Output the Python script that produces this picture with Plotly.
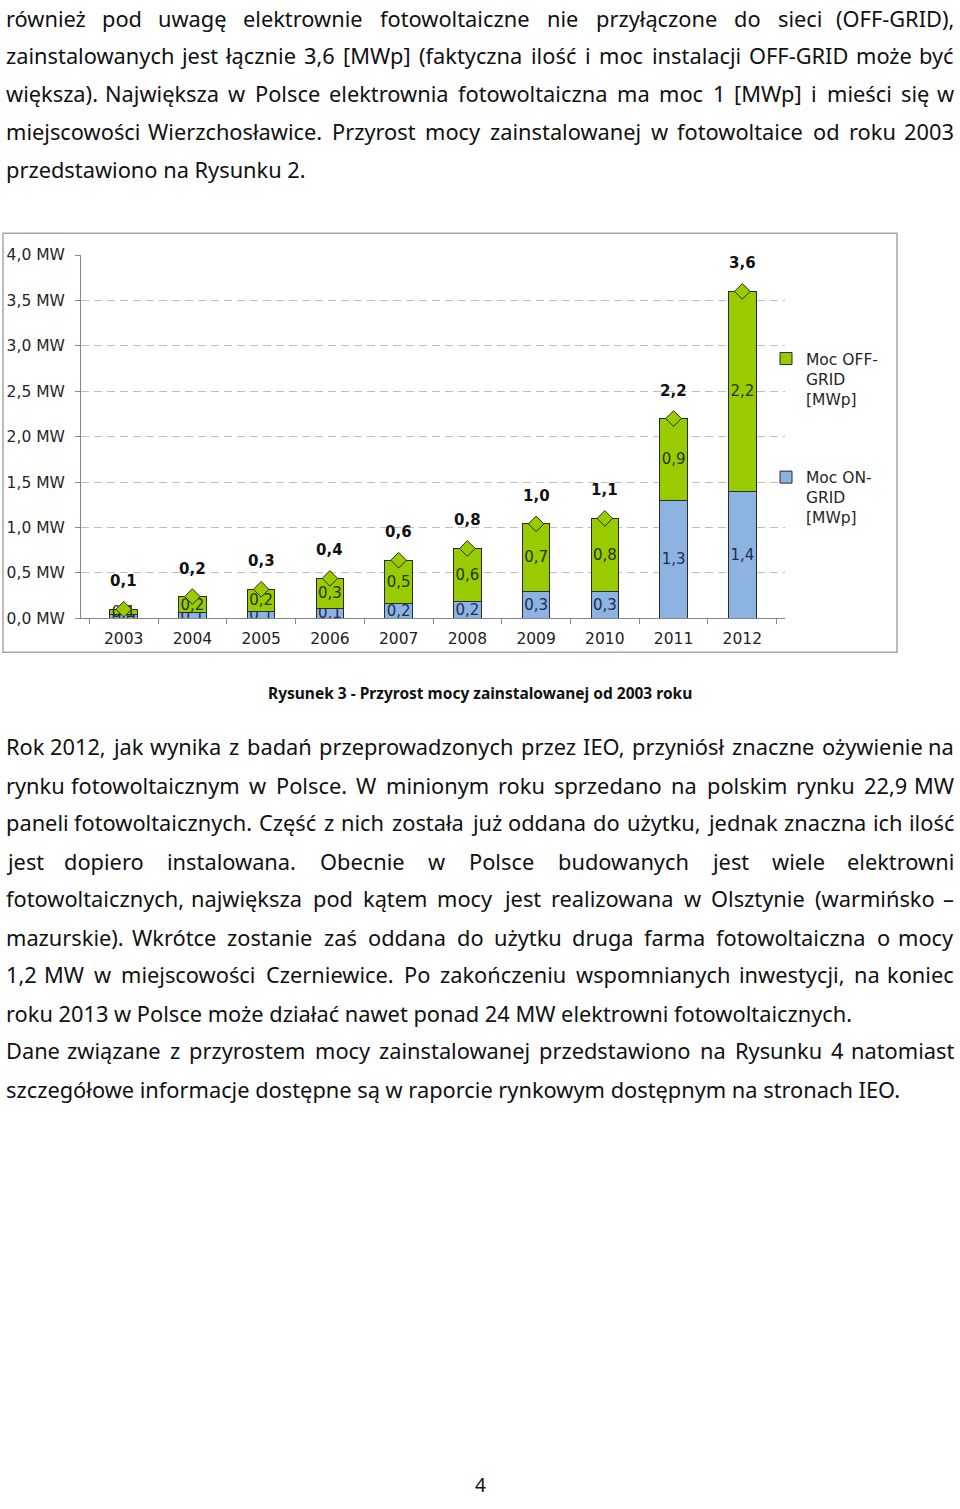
import plotly.graph_objects as go

# ---------------- data ----------------
years = ["2003", "2004", "2005", "2006", "2007", "2008", "2009", "2010", "2011", "2012"]
on_grid = [0.04, 0.06, 0.08, 0.11, 0.16, 0.18, 0.30, 0.30, 1.30, 1.40]
off_grid = [0.06, 0.18, 0.24, 0.33, 0.48, 0.59, 0.74, 0.80, 0.90, 2.20]
y_ticks = [0.0, 0.5, 1.0, 1.5, 2.0, 2.5, 3.0, 3.5, 4.0]
y_tick_text = ["0,0 MW", "0,5 MW", "1,0 MW", "1,5 MW", "2,0 MW", "2,5 MW", "3,0 MW", "3,5 MW", "4,0 MW"]
name_off = "Moc OFF-<br>GRID<br>[MWp]"
name_on = "Moc ON-<br>GRID<br>[MWp]"
caption = "Rysunek 3 - Przyrost mocy zainstalowanej od 2003 roku"
page_number = "4"

para_top = [
    ("również pod uwagę elektrownie fotowoltaiczne nie przyłączone do sieci (OFF-GRID),", True),
    ("zainstalowanych jest łącznie 3,6 [MWp] (faktyczna ilość i moc instalacji OFF-GRID może być", True),
    ("większa). Największa w Polsce elektrownia fotowoltaiczna ma moc 1 [MWp] i mieści się w", True),
    ("miejscowości Wierzchosławice. Przyrost mocy zainstalowanej w fotowoltaice od roku 2003", True),
    ("przedstawiono na Rysunku 2.", False),
]
para_bottom = [
    ("Rok 2012, jak wynika z badań przeprowadzonych przez IEO, przyniósł znaczne ożywienie na", True),
    ("rynku fotowoltaicznym w Polsce. W minionym roku sprzedano na polskim rynku 22,9 MW", True),
    ("paneli fotowoltaicznych. Część z nich została już oddana do użytku, jednak znaczna ich ilość", True),
    ("jest dopiero instalowana. Obecnie w Polsce budowanych jest wiele elektrowni", True),
    ("fotowoltaicznych, największa pod kątem mocy jest realizowana w Olsztynie (warmińsko –", True),
    ("mazurskie). Wkrótce zostanie zaś oddana do użytku druga farma fotowoltaiczna o mocy", True),
    ("1,2 MW w miejscowości Czerniewice. Po zakończeniu wspomnianych inwestycji, na koniec", True),
    ("roku 2013 w Polsce może działać nawet ponad 24 MW elektrowni fotowoltaicznych.", False),
    ("Dane związane z przyrostem mocy zainstalowanej przedstawiono na Rysunku 4 natomiast", True),
    ("szczegółowe informacje dostępne są w raporcie rynkowym dostępnym na stronach IEO.", False),
]

# ---------------- page geometry ----------------
W, H = 960, 1509
def px(x):
    return x / W
def py(y):
    return 1 - y / H

GREEN = "#99CC00"
BLUE = "#8DB3E2"
OUTLINE = "#2b2b2b"
AXIS = "#868686"
CHART_FONT = "DejaVu Sans"
BODY_FONT = "Noto Sans"
BODY_SIZE = 21.8

fig = go.Figure()

fig.add_bar(
    x=years, y=on_grid, name=name_on, legend="legend2",
    marker=dict(color=BLUE, line=dict(color=OUTLINE, width=1)),
    texttemplate="%{y:.1f}", textposition="inside", insidetextanchor="middle",
    textangle=0, textfont=dict(family=CHART_FONT, size=15, color="#1f2d4d"),
    constraintext="none", hoverinfo="skip",
)
fig.add_bar(
    x=years, y=off_grid, name=name_off, legend="legend",
    marker=dict(color=GREEN, line=dict(color=OUTLINE, width=1)),
    texttemplate="%{y:.1f}", textposition="inside", insidetextanchor="middle",
    textangle=0, textfont=dict(family=CHART_FONT, size=15, color="#2a3300"),
    constraintext="none", hoverinfo="skip",
)
totals = [round(a + b, 2) for a, b in zip(on_grid, off_grid)]
fig.add_scatter(
    x=years, y=totals, mode="markers", showlegend=False,
    marker=dict(symbol="diamond", size=12, color=GREEN, line=dict(color=OUTLINE, width=1)),
    hoverinfo="skip",
)
# on a category axis annotations use the category index
for i, t in enumerate(totals):
    fig.add_annotation(
        x=i, y=t, xref="x", yref="y", yshift=28, showarrow=False,
        text="<b>" + f"{t:.1f}".replace(".", ",") + "</b>",
        font=dict(family=CHART_FONT, size=15, color="#111111"),
    )

# chart frame
fig.add_shape(type="rect", xref="paper", yref="paper",
              x0=px(3), x1=px(897), y0=py(651), y1=py(227),
              line=dict(color="#A6A6A6", width=1.5), layer="below")

# ---------------- page text ----------------
OPEN = {
    'a': .556, 'b': .613, 'c': .480, 'd': .613, 'e': .561, 'f': .336, 'g': .546, 'h': .614,
    'i': .259, 'j': .259, 'k': .529, 'l': .259, 'm': .932, 'n': .614, 'o': .604, 'p': .613,
    'q': .613, 'r': .408, 's': .479, 't': .353, 'u': .614, 'v': .500, 'w': .778, 'x': .522,
    'y': .500, 'z': .468,
    'ą': .556, 'ć': .480, 'ę': .561, 'ł': .278, 'ń': .614, 'ó': .604, 'ś': .479, 'ź': .468, 'ż': .468,
    'A': .633, 'B': .648, 'C': .631, 'D': .729, 'E': .556, 'F': .516, 'G': .728, 'H': .738,
    'I': .279, 'J': .267, 'K': .614, 'L': .519, 'M': .903, 'N': .754, 'O': .779, 'P': .602,
    'Q': .779, 'R': .618, 'S': .549, 'T': .553, 'U': .729, 'V': .595, 'W': .907, 'X': .577,
    'Y': .560, 'Z': .564, 'Ś': .549,
    ',': .245, '.': .266, '(': .296, ')': .296, '[': .328, ']': .328, '-': .322, '–': .500,
}
def est(word, size):
    return sum(OPEN.get(ch, .572) for ch in word) * size

LEFT, RIGHT = 4, 956
TEXT_SHIFT = 2.6  # box centre vs x-height centre

def add_line(text, ypx, justify):
    font = dict(family=BODY_FONT, size=BODY_SIZE, color="#111111")
    yy = py(ypx - TEXT_SHIFT)
    if not justify:
        fig.add_annotation(text=text, x=px(LEFT), y=yy, xref="paper", yref="paper",
                           xanchor="left", yanchor="middle", showarrow=False, font=font)
        return
    words = text.split(" ")
    widths = [est(w, BODY_SIZE) for w in words]
    gap = (RIGHT - LEFT - sum(widths)) / (len(words) - 1)
    xpos = LEFT
    for i, (w, wd) in enumerate(zip(words, widths)):
        if i == 0:
            xa, xx = "left", LEFT
        elif i == len(words) - 1:
            xa, xx = "right", RIGHT
        else:
            xa, xx = "center", xpos + wd / 2
        fig.add_annotation(text=w, x=px(xx), y=yy, xref="paper", yref="paper",
                           xanchor=xa, yanchor="middle", showarrow=False, font=font)
        xpos += wd + gap

top_y = [12, 50, 88, 127, 165]
bottom_y = [749, 788, 826, 865, 903, 942, 980, 1019, 1057, 1096]
for (t, j), yy in zip(para_top, top_y):
    add_line(t, yy, j)
for (t, j), yy in zip(para_bottom, bottom_y):
    add_line(t, yy, j)

fig.add_annotation(text="<b>" + caption + "</b>", x=px(480), y=py(692), xref="paper", yref="paper",
                   showarrow=False, font=dict(family=BODY_FONT, size=15.5, color="#111111"))
fig.add_annotation(text=page_number, x=px(480), y=0, xref="paper", yref="paper",
                   xanchor="center", yanchor="bottom", showarrow=False,
                   font=dict(family=BODY_FONT, size=19, color="#111111"))

# ---------------- layout ----------------
legend_common = dict(
    xanchor="left", yanchor="top", valign="top", itemwidth=30,
    font=dict(family=CHART_FONT, size=15.5, color="#262626"),
    bgcolor="rgba(0,0,0,0)", itemclick=False, itemdoubleclick=False,
)
fig.update_layout(
    width=W, height=H, autosize=False,
    margin=dict(l=0, r=0, t=0, b=0),
    paper_bgcolor="white", plot_bgcolor="white",
    separators=", ",
    barmode="stack", bargap=0.6, uniformtext_mode=False,
    xaxis=dict(
        domain=[px(81), px(785)], type="category",
        showline=True, linecolor=AXIS, linewidth=1,
        ticks="outside", tickson="boundaries", ticklen=5, tickcolor=AXIS,
        tickfont=dict(family=CHART_FONT, size=15.5, color="#222222"),
        ticklabelstandoff=6, showgrid=False, fixedrange=True,
    ),
    yaxis=dict(
        domain=[py(616.7), py(249)], range=[0, 4],
        tickmode="array", tickvals=y_ticks, ticktext=y_tick_text,
        showline=True, linecolor=AXIS, linewidth=1,
        ticks="outside", ticklen=5, tickcolor=AXIS,
        tickfont=dict(family=CHART_FONT, size=15.5, color="#262626"),
        ticklabelstandoff=7,
        showgrid=True, gridcolor="#BFBFBF", griddash="8px,5px", gridwidth=1,
        zeroline=False, fixedrange=True,
    ),
    legend=dict(x=px(766), y=py(337), **legend_common),
    legend2=dict(x=px(766), y=py(457), **legend_common),
    showlegend=True,
)

fig.write_html("out.html", config={"displayModeBar": False},
               post_script="document.body.style.margin='0';")
